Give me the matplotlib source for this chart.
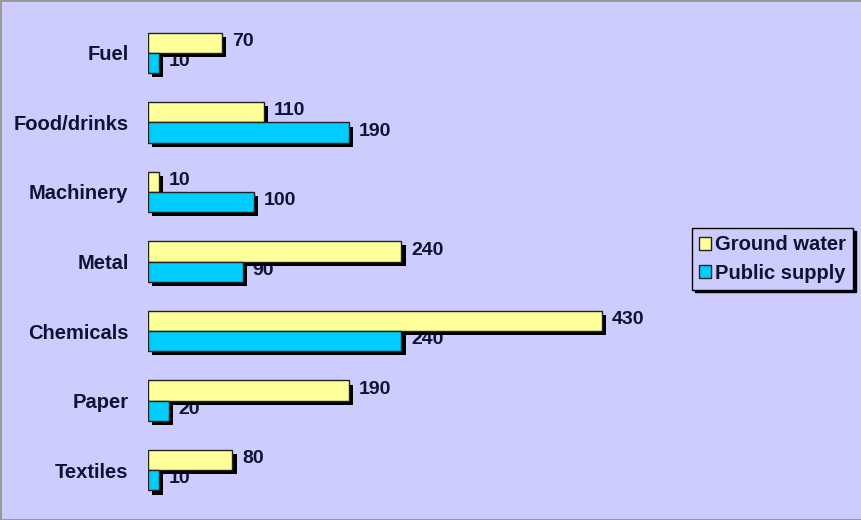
import matplotlib.pyplot as plt
import matplotlib.patheffects as pe
import numpy as np

# Dados
categorias = ['Fuel', 'Food/drinks', 'Machinery', 'Metal', 'Chemicals', 'Paper', 'Textiles']
ground_water = [70, 110, 10, 240, 430, 190, 80]
public_supply = [10, 190, 100, 90, 240, 20, 10]

fundo = '#ccccff'
amarelo = '#ffff99'
ciano = '#00ccff'
texto = '#111133'

fig = plt.figure(figsize=(8.62, 5.2), dpi=100, facecolor=fundo)
plt.rcParams['font.family'] = ['Liberation Sans', 'DejaVu Sans']

# Eixo posicionado em pixels
ax = fig.add_axes([148 / 862, 15 / 520, 520 / 862, 487 / 520])
ax.set_facecolor(fundo)

y = np.arange(len(categorias))
h = 0.29
sombra = [pe.SimplePatchShadow(offset=(3, -3), shadow_rgbFace='black', alpha=1), pe.Normal()]

ax.barh(y - h / 2, ground_water, height=h, color=amarelo, edgecolor='#222222',
        linewidth=1, zorder=3, label='Ground water', path_effects=sombra)
ax.barh(y + h / 2, public_supply, height=h, color=ciano, edgecolor='#222222',
        linewidth=1, zorder=3, label='Public supply', path_effects=sombra)

# Rótulos de valores (desenhados por baixo das barras)
for yy, v in zip(y - h / 2, ground_water):
    ax.annotate(str(v), (v, yy), xytext=(7, 1), textcoords='offset points',
                va='center', ha='left', fontsize=14, fontweight='bold',
                color=texto, zorder=1)
for yy, v in zip(y + h / 2, public_supply):
    ax.annotate(str(v), (v, yy), xytext=(7, 1), textcoords='offset points',
                va='center', ha='left', fontsize=14, fontweight='bold',
                color=texto, zorder=1)

ax.set_xlim(0, 520 / 1.056)
ax.set_ylim(6.5, -0.5)
ax.set_yticks(y)
ax.set_yticklabels(categorias, fontsize=14.5, fontweight='bold', color=texto)
ax.tick_params(axis='y', length=0, pad=14)
ax.set_xticks([])
for s in ax.spines.values():
    s.set_visible(False)

leg = ax.legend(loc='center left', bbox_to_anchor=(692 / 862, 1 - 259 / 520),
                bbox_transform=fig.transFigure, fancybox=False,
                shadow={'color': 'black', 'alpha': 1}, frameon=True,
                edgecolor='black', facecolor=fundo, framealpha=1,
                prop={'size': 14.5, 'weight': 'bold'}, handlelength=0.6,
                handleheight=0.6, handletextpad=0.2, borderpad=0.35,
                labelspacing=0.45, borderaxespad=0)
leg.get_frame().set_linewidth(1)
for t in leg.get_texts():
    t.set_color(texto)
for hd in leg.legend_handles:
    hd.set_path_effects([])

fig.patch.set_edgecolor('#999999')
fig.patch.set_linewidth(1)

fig.savefig('out.png', dpi=100, facecolor=fundo, edgecolor=fig.get_edgecolor())
